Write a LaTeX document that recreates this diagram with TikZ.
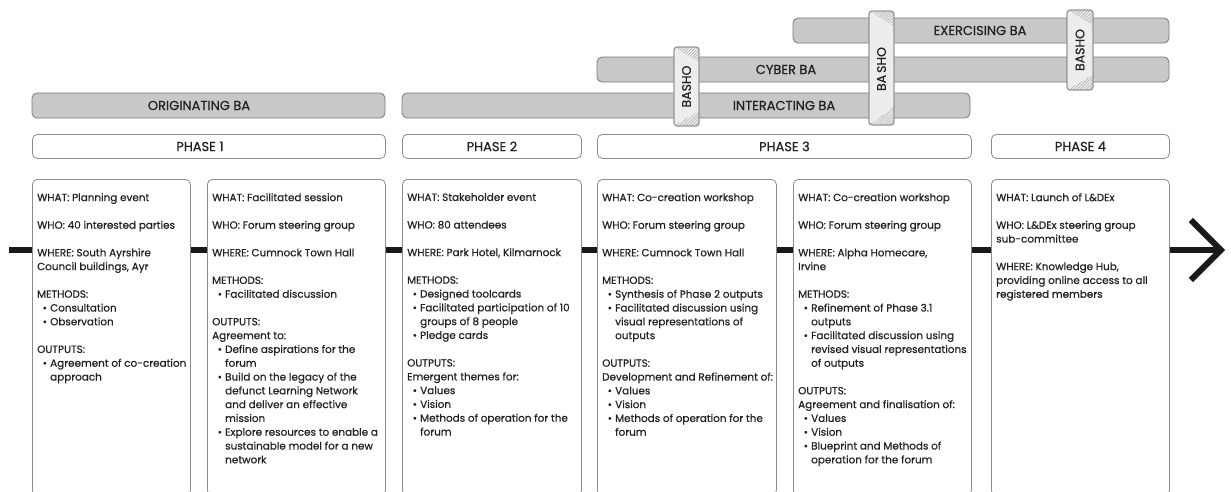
\documentclass[tikz,border=0pt]{standalone}
\usepackage{fontspec}
\setmainfont{Poppins}[FakeBold=0.6]
\usetikzlibrary{arrows.meta, patterns.meta}

\definecolor{barfill}{HTML}{C8C8C8}
\definecolor{barline}{HTML}{7A7A7A}
\definecolor{boxline}{HTML}{8C8C8C}
\definecolor{bashofill}{HTML}{EDEDED}
\definecolor{ink}{HTML}{222222}

% card text: gap between parts, next line, bulleted line, continued line
\newcommand{\gap}{\par\vspace{13.8pt}}
\newcommand{\nxt}{\par\noindent}
\newcommand{\blt}{\par\noindent\hbox to 13pt{\hspace{5.5pt}\textbullet\hfil}}
\newcommand{\cnt}{\par\noindent\hspace*{13pt}}
\newcommand{\cardtext}[1]{\parbox[t]{172pt}{\raggedright\noindent #1}}

\begin{document}
\begin{tikzpicture}[x=1pt, y=-1pt,
    bar/.style={draw=barline, fill=barfill, line width=0.8pt, rounded corners=5pt},
    balabel/.style={inner sep=0pt, text=ink, font=\fontsize{13}{13}\selectfont},
    phase/.style={draw=boxline, fill=white, line width=0.8pt, rounded corners=5pt,
        minimum height=24pt, inner sep=0pt, anchor=north west, text=ink,
        font=\fontsize{13}{13}\selectfont},
    bashobox/.style={draw=boxline, fill=bashofill, line width=0.8pt, rounded corners=3pt},
    hatch/.style={pattern={Lines[angle=45, distance=2.2pt, line width=0.5pt]}, pattern color=gray!70},
    bashotext/.style={rotate=90, inner sep=0pt, text=ink, font=\fontsize{12.5}{12.5}\selectfont},
    card/.style={draw=boxline, fill=white, line width=0.8pt, rounded corners=5pt,
        minimum height=316pt, inner sep=0pt, anchor=north west},
    body/.style={anchor=north west, inner sep=0pt, text=ink,
        font=\fontsize{10.4}{13.8}\selectfont},
    spine/.style={line width=6pt, draw=black!90}]

    \useasboundingbox (0,0) rectangle (1231,491);

    % BA bars
    \draw[bar] (32,93) rectangle (385,118);
    \node[balabel] (orig) at (199,105.5) {ORIGINATING BA};
    \draw[bar] (402,93) rectangle (970,118);
    \node[balabel] (inter) at (784,105.5) {INTERACTING BA};
    \draw[bar] (597,57) rectangle (1169,82);
    \node[balabel] (cyber) at (786,69.5) {CYBER BA};
    \draw[bar] (793,18) rectangle (1169,43);
    \node[balabel] (exer) at (980,30.5) {EXERCISING BA};

    % Basho 1
    \begin{scope}
        \draw[bashobox] (674,47) rectangle (699,126);
        \clip[rounded corners=3pt] (674,47) rectangle (699,126);
        \fill[hatch] (674,47) -- (699,47) -- (699,62) -- cycle;
        \fill[hatch] (674,126) -- (699,126) -- (699,111) -- cycle;
    \end{scope}
    \draw[bashobox, fill=none] (674,47) rectangle (699,126);
    \node[bashotext] (basho1) at (686.5,86.5) {BASHO};

    % Basho 2
    \begin{scope}
        \draw[bashobox] (869,11) rectangle (894,125);
        \clip[rounded corners=3pt] (869,11) rectangle (894,125);
        \fill[hatch] (869,11) -- (894,11) -- (894,26) -- cycle;
        \fill[hatch] (869,125) -- (894,125) -- (894,107) -- cycle;
    \end{scope}
    \draw[bashobox, fill=none] (869,11) rectangle (894,125);
    \node[bashotext] (basho2) at (881.5,69) {BA\kern2pt SHO};

    % Basho 3
    \begin{scope}
        \draw[bashobox] (1067,10) rectangle (1093,90);
        \clip[rounded corners=3pt] (1067,10) rectangle (1093,90);
        \fill[hatch] (1067,10) -- (1093,10) -- (1093,25) -- cycle;
        \fill[hatch] (1067,90) -- (1093,90) -- (1093,75) -- cycle;
    \end{scope}
    \draw[bashobox, fill=none] (1067,10) rectangle (1093,90);
    \node[bashotext] (basho3) at (1080,50) {BASHO};

    % Phases
    \node[phase, minimum width=353pt] (ph1) at (32,134) {PHASE 1\hspace*{18pt}};
    \node[phase, minimum width=179pt] (ph2) at (402,134) {PHASE 2};
    \node[phase, minimum width=374pt] (ph3) at (597,134) {PHASE 3};
    \node[phase, minimum width=178pt] (ph4) at (991,134) {PHASE 4};

    % Cards
    \node[card, minimum width=158pt] (w1) at (32,179) {};
    \node[card, minimum width=178pt] (w2) at (207,179) {};
    \node[card, minimum width=179pt] (w3) at (402,179) {};
    \node[card, minimum width=179pt] (w4) at (597,179) {};
    \node[card, minimum width=178pt] (w5) at (793,179) {};
    \node[card, minimum width=178pt] (w6) at (991,179) {};

    \node[body] (t1) at ([shift={(5,14)}]w1.north west) {\cardtext{%
        WHAT: Planning event\gap
        WHO: 40 interested parties\gap
        WHERE: South Ayrshire\nxt Council buildings, Ayr\gap
        METHODS:
        \blt Consultation
        \blt Observation\gap
        OUTPUTS:
        \blt Agreement of co-creation\cnt approach}};
    \node[body] (t2) at ([shift={(5,14)}]w2.north west) {\cardtext{%
        WHAT: Facilitated session\gap
        WHO: Forum steering group\gap
        WHERE: Cumnock Town Hall\gap
        METHODS:
        \blt Facilitated discussion\gap
        OUTPUTS:\nxt Agreement to:
        \blt Define aspirations for the\cnt forum
        \blt Build on the legacy of the\cnt defunct Learning Network\cnt and deliver an effective\cnt mission
        \blt Explore resources to enable a\cnt sustainable model for a new\cnt network}};
    \node[body] (t3) at ([shift={(5,14)}]w3.north west) {\cardtext{%
        WHAT: Stakeholder event\gap
        WHO: 80 attendees\gap
        WHERE: Park Hotel, Kilmarnock\gap
        METHODS:
        \blt Designed toolcards
        \blt Facilitated participation of 10\cnt groups of 8 people
        \blt Pledge cards\gap
        OUTPUTS:\nxt Emergent themes for:
        \blt Values
        \blt Vision
        \blt Methods of operation for the\cnt forum}};
    \node[body] (t4) at ([shift={(5,14)}]w4.north west) {\cardtext{%
        WHAT: Co-creation workshop\gap
        WHO: Forum steering group\gap
        WHERE: Cumnock Town Hall\gap
        METHODS:
        \blt Synthesis of Phase 2 outputs
        \blt Facilitated discussion using\cnt visual representations of\cnt outputs\gap
        OUTPUTS:\nxt Development and Refinement of:
        \blt Values
        \blt Vision
        \blt Methods of operation for the\cnt forum}};
    \node[body] (t5) at ([shift={(5,14)}]w5.north west) {\cardtext{%
        WHAT: Co-creation workshop\gap
        WHO: Forum steering group\gap
        WHERE: Alpha Homecare,\nxt Irvine\gap
        METHODS:
        \blt Refinement of Phase 3.1\cnt outputs
        \blt Facilitated discussion using\cnt revised visual representations\cnt of outputs\gap
        OUTPUTS:\nxt Agreement and finalisation of:
        \blt Values
        \blt Vision
        \blt Blueprint and Methods of\cnt operation for the forum}};
    \node[body] (t6) at ([shift={(5,14)}]w6.north west) {\cardtext{%
        WHAT: Launch of L\&DEx\gap
        WHO: L\&DEx steering group\nxt sub-committee\gap
        WHERE: Knowledge Hub,\nxt providing online access to all\nxt registered members}};

    % Timeline
    \coordinate (sp) at (0,250);
    \coordinate (start) at (9,250);
    \coordinate (tip) at (1225,250);
    \draw[spine] (start) -- (w1.west |- sp);
    \draw[spine] (w1.east |- sp) -- (w2.west |- sp);
    \draw[spine] (w2.east |- sp) -- (w3.west |- sp);
    \draw[spine] (w3.east |- sp) -- (w4.west |- sp);
    \draw[spine] (w4.east |- sp) -- (w5.west |- sp);
    \draw[spine] (w5.east |- sp) -- (w6.west |- sp);
    \draw[spine, -{Straight Barb[length=30pt, width=60pt]}] (w6.east |- sp) -- (tip);
\end{tikzpicture}
\end{document}
